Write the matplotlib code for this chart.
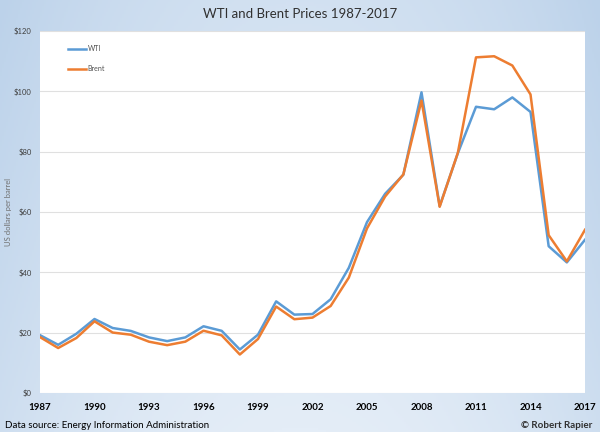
import numpy as np
import matplotlib.pyplot as plt
from matplotlib.colors import LinearSegmentedColormap

years = list(range(1987, 2018))
wti = [19.17, 15.97, 19.64, 24.53, 21.54, 20.58, 18.43, 17.20, 18.43, 22.12,
       20.61, 14.42, 19.35, 30.38, 25.98, 26.18, 31.08, 41.51, 56.64, 66.05,
       72.34, 99.67, 61.95, 79.48, 94.88, 94.05, 97.98, 93.17, 48.66, 43.29,
       50.80]
brent = [18.53, 14.91, 18.23, 23.76, 20.04, 19.32, 17.01, 15.86, 17.02, 20.64,
         19.11, 12.76, 17.90, 28.66, 24.46, 24.99, 28.85, 38.26, 54.57, 65.16,
         72.44, 96.94, 61.74, 79.61, 111.26, 111.63, 108.56, 98.97, 52.32, 43.64,
         54.12]
x_ticks = list(range(1987, 2018, 3))
y_ticks = [0, 20, 40, 60, 80, 100, 120]

plt.rcParams['font.family'] = ['Lato', 'DejaVu Sans']

fig = plt.figure(figsize=(6, 4.32), dpi=100)

# light blue gradient background, darker towards the sides and bottom
bg = fig.add_axes([0, 0, 1, 1], zorder=0)
gx = np.linspace(-1, 1, 300)
gy = np.linspace(0, 1, 216)
X, Y = np.meshgrid(gx, gy)
val = 0.55 * np.abs(X) ** 2 + 0.45 * Y
cmap = LinearSegmentedColormap.from_list('bg', ['#e4edf7', '#bcd2ea'])
bg.imshow(val, cmap=cmap, aspect='auto', extent=[0, 1, 0, 1], origin='lower',
          vmin=0, vmax=1)
bg.axis('off')

ax = fig.add_axes([40 / 600, 39 / 432, 545 / 600, 362 / 432], zorder=1)
ax.set_facecolor('white')
ax.plot(years, wti, color='#5b9bd5', lw=1.8, label='WTI')
ax.plot(years, brent, color='#ed7d31', lw=1.8, label='Brent')

ax.set_xlim(1987, 2017)
ax.set_ylim(0, 120)
ax.set_xticks(x_ticks)
ax.set_xticklabels([str(y) for y in x_ticks], fontsize=7, fontweight='bold')
ax.set_yticks(y_ticks)
ax.set_yticklabels([f'${v}' for v in y_ticks], fontsize=5.5, color='#404040')
ax.tick_params(length=0, pad=6)
ax.tick_params(axis='x', pad=7)
ax.grid(axis='y', color='#e0e0e0', lw=0.8)
ax.set_axisbelow(True)
for s in ax.spines.values():
    s.set_visible(False)

ax.set_ylabel('US dollars per barrel', fontsize=5.5, color='#707070')
ax.yaxis.set_label_coords(-0.052, 0.5)

leg = ax.legend(loc='upper left', bbox_to_anchor=(0.04, 0.978), frameon=False,
                fontsize=5, handlelength=2.6, labelspacing=1.9, handletextpad=0.2)
for t in leg.get_texts():
    t.set_color('#505050')

fig.text(0.5, 0.968, 'WTI and Brent Prices 1987-2017', ha='center', va='center',
         fontsize=9.5, color='#303030')
fig.text(0.008, 0.016, 'Data source: Energy Information Administration',
         ha='left', va='center', fontsize=7)
fig.text(0.987, 0.016, '© Robert Rapier', ha='right', va='center',
         fontsize=7, fontweight='bold', color='#303030')

fig.savefig('out.png', dpi=100)
